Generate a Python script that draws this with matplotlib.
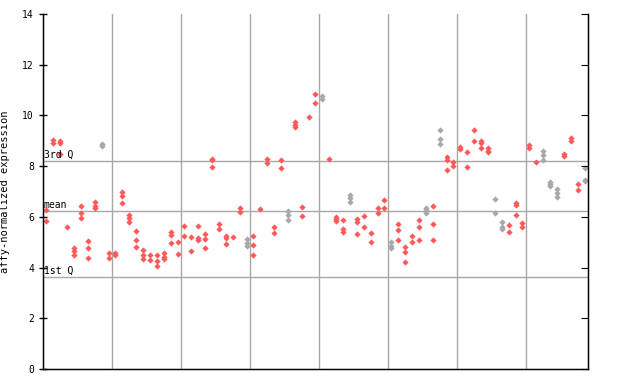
import matplotlib
matplotlib.use("Agg")
import matplotlib.pyplot as plt

# expression values per sample (replicates)
samples = [
    [6.27, 5.84], [9.03, 8.9], [9.0, 8.9, 8.47], [5.6], [4.78, 4.65, 4.5],
    [6.43, 6.15, 5.95], [5.05, 4.77, 4.38], [6.58, 6.43, 6.35], [8.87, 8.8], [4.57, 4.38],
    [4.58, 4.5], [7.0, 6.83, 6.55], [6.07, 5.95, 5.8], [5.44, 5.09, 4.8], [4.69, 4.5, 4.34],
    [4.5, 4.3], [4.5, 4.27, 4.07], [4.57, 4.43, 4.34], [5.41, 5.28, 4.97], [5.0, 4.52],
    [5.65, 5.24], [5.22, 4.65], [5.64, 5.17, 5.09], [5.32, 5.13, 4.77], [8.3, 8.24, 7.97],
    [5.72, 5.53], [5.26, 5.15, 4.92], [5.22], [6.36, 6.18], [5.11, 4.96, 4.86],
    [5.24, 4.89, 4.5], [6.31], [8.27, 8.11], [5.61, 5.35], [8.24, 7.91],
    [6.23, 6.07, 5.88], [9.75, 9.62, 9.53], [6.37, 6.03], [9.92], [10.84, 10.48],
    [10.78, 10.63], [8.28], [5.98, 5.91, 5.84], [5.88, 5.52, 5.41], [6.86, 6.73, 6.57],
    [5.91, 5.81, 5.31], [6.03, 5.59], [5.35, 5.0], [6.33, 6.16], [6.66, 6.33],
    [4.99, 4.85, 4.76], [5.7, 5.48, 5.09], [4.8, 4.6, 4.23], [5.24, 5.0], [5.88, 5.59, 5.09],
    [6.33, 6.27, 6.16], [6.43, 5.7, 5.09], [9.42, 9.06, 8.86], [8.37, 8.24, 7.85], [8.17, 8.0],
    [8.74, 8.66], [8.54, 7.95], [9.42, 9.0], [9.0, 8.9, 8.7], [8.7, 8.61, 8.54],
    [6.69, 6.16], [5.78, 5.59, 5.51], [5.68, 5.41], [6.53, 6.47, 6.06], [5.74, 5.59],
    [8.83, 8.7], [8.17], [8.6, 8.44, 8.24], [7.39, 7.29, 7.2], [7.09, 6.93, 6.77],
    [8.48, 8.4], [9.1, 9.0], [7.29, 7.06], [7.91, 7.45, 7.41],
]
gray_samples = [8, 29, 35, 40, 44, 50, 55, 57, 65, 66, 72, 73, 74, 78]

q1 = 3.62
mean = 6.23
q3 = 8.22
group_size = 10

fig = plt.figure(figsize=(6.4, 3.84), dpi=100)
ax = fig.add_axes([43 / 640, 15 / 384, 545 / 640, 355 / 384])

for i, vals in enumerate(samples):
    col = "#a8a8a8" if i in gray_samples else "#ff5a5a"
    ax.plot([i] * len(vals), vals, linestyle="none", marker="D",
            markersize=3.2, color=col, markeredgewidth=0)

n = len(samples)
ax.set_xlim(-0.5, n - 0.5)
ax.set_ylim(0, 14)

for b in range(group_size, n, group_size):
    ax.axvline(b - 0.5, color="#a8a8a8", lw=1, zorder=0)

mono = "DejaVu Sans Mono"
for val, lab in [(q3, "3rd Q"), (mean, "mean"), (q1, "1st Q")]:
    ax.axhline(val, color="#a8a8a8", lw=1, zorder=0)
    ax.text(-0.4, val + 0.05, lab, fontsize=7, family=mono, va="bottom", ha="left")

ax.set_xticks([])
ax.set_yticks(range(0, 15, 2))
ax.set_yticklabels([str(v) for v in range(0, 15, 2)], family=mono, fontsize=7)
ax.tick_params(axis="y", direction="inout", length=6, width=1)
ax.spines["top"].set_visible(False)
for s in ["left", "right", "bottom"]:
    ax.spines[s].set_linewidth(1)

ax2 = ax.twinx()
ax2.set_ylim(0, 14)
ax2.set_yticks(range(0, 15, 2))
ax2.set_yticklabels([])
ax2.tick_params(axis="y", direction="in", length=5)
ax2.spines["top"].set_visible(False)

ax.set_ylabel("affy-normalized expression", family=mono, fontsize=7.5)
ax.yaxis.set_label_coords(-0.06, 0.5)

fig.savefig("out.png", dpi=100)
